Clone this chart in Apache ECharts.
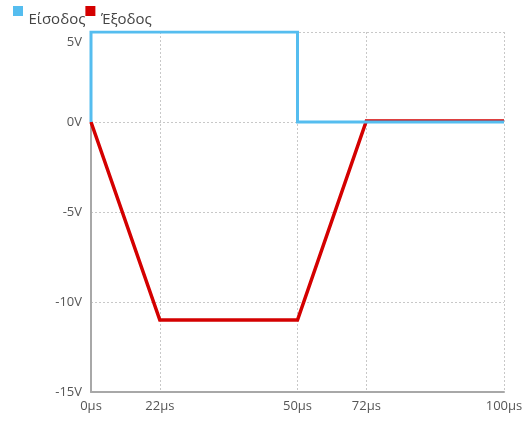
<!DOCTYPE html>
<html>
<head>
<meta charset="utf-8">
<script src="https://cdn.jsdelivr.net/npm/echarts@6/dist/echarts.min.js"></script>
<style>
  html, body { margin: 0; padding: 0; background: #fff; }
  #chart { width: 529px; height: 421px; }
</style>
</head>
<body>
<div id="chart"></div>
<script>
// Time axis slots (µs); empty slots are spacers with no label or grid line
const timeLabels = ['0µs', '22µs', '', '50µs', '72µs', '', '100µs'];
const voltTicks = [-15, -10, -5, 0, 5];

// Input pulse: [slot index, volts]
const inputSignal = [[0, 0], [0, 5], [3, 5], [3, 0], [6, 0]];
// Output ramp: [slot index, volts]
const outputSignal = [[0, 0], [1, -11], [3, -11], [4, 0.06], [6, 0.06]];

const inputName = 'Είσοδος';
const outputName = 'Έξοδος';
const blue = '#55bdef';
const red = '#d40000';
const fontFamily = '"Open Sans", "Noto Sans", sans-serif';
const yMax = voltTicks[voltTicks.length - 1];

// Legend swatch: square sitting at the top of a taller (invisible) box,
// so the label text hangs below the swatch
const swatch = 'path://M0,0H10V10H0ZM0,28L0.01,28';

const chart = echarts.init(document.getElementById('chart'));
chart.setOption({
  animation: false,
  backgroundColor: '#fff',
  legend: {
    left: 13,
    top: 6,
    padding: 0,
    icon: swatch,
    itemWidth: 11,
    itemHeight: 28,
    itemGap: 0,
    textStyle: { fontFamily, fontSize: 15, color: '#444' },
    data: [
      { name: inputName, itemStyle: { color: blue } },
      { name: outputName, itemStyle: { color: red } }
    ]
  },
  grid: { left: 91, right: 25, top: 32, bottom: 29, containLabel: false },
  xAxis: {
    type: 'category',
    boundaryGap: false,
    data: timeLabels,
    axisLine: { onZero: false, lineStyle: { color: '#a8a8a8', width: 2 } },
    axisTick: { show: false },
    axisLabel: {
      interval: 0,
      margin: 8,
      fontFamily, fontSize: 13, color: '#555'
    },
    splitLine: {
      show: true,
      interval: (i, v) => v !== '' && i !== 0,
      lineStyle: { color: '#c8c8c8', type: [2, 2], width: 1 }
    }
  },
  yAxis: {
    type: 'value',
    min: voltTicks[0],
    max: yMax,
    interval: 5,
    axisLine: { show: true, onZero: false, lineStyle: { color: '#a8a8a8', width: 2 } },
    axisTick: { show: false },
    axisLabel: {
      margin: 9,
      fontFamily, fontSize: 13, color: '#555',
      formatter: v => (v === yMax ? '{top|' + v + 'V}' : v + 'V'),
      rich: {
        top: { fontFamily, fontSize: 13, color: '#555', padding: [20, 0, 0, 0] }
      }
    },
    splitLine: {
      show: true,
      lineStyle: { color: '#c8c8c8', type: [2, 2], width: 1 }
    }
  },
  series: [
    {
      name: outputName,
      type: 'line',
      data: outputSignal,
      symbol: 'none',
      z: 3,
      lineStyle: { color: red, width: 3.5, join: 'miter' },
      itemStyle: { color: red }
    },
    {
      name: inputName,
      type: 'line',
      data: inputSignal,
      symbol: 'none',
      z: 4,
      lineStyle: { color: blue, width: 3, join: 'miter' },
      itemStyle: { color: blue }
    }
  ]
});
</script>
</body>
</html>
